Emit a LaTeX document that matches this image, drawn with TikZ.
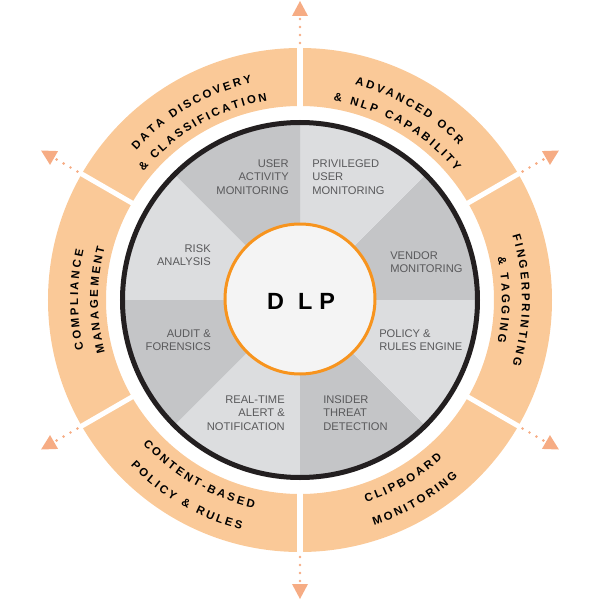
\documentclass[tikz,border=0pt]{standalone}
\usepackage{fontspec}
\setmainfont{Liberation Sans}
\usepackage{xcolor}
\usetikzlibrary{arrows.meta,decorations.text}
\definecolor{ringpeach}{RGB}{250, 201, 152}
\definecolor{arrowsalmon}{RGB}{246, 172, 132}
\definecolor{sectordark}{RGB}{196, 197, 199}
\definecolor{sectorlight}{RGB}{220, 221, 223}
\definecolor{rimblack}{RGB}{35, 31, 32}
\definecolor{hubfill}{RGB}{244, 244, 244}
\definecolor{huborange}{RGB}{247, 148, 30}
\definecolor{labelgray}{RGB}{89, 89, 91}

\begin{document}
\begin{tikzpicture}[x=0.7pt, y=0.7pt,
    sectorlabel/.style={text=labelgray, font=\fontsize{7.8}{9.4}\selectfont, inner sep=0pt},
    gapline/.style={white, line width=3.5pt},
    arrowline/.style={arrowsalmon, line width=2pt, line cap=round, dash pattern=on 0pt off 5.6pt,
      -{Triangle[length=10.5pt, width=11.2pt, line width=0pt]}},
    ringlabel/.style={decorate, decoration={text effects along path, text={#1}, text align=center,
      text effects/.cd, text along path,
      characters={font=\bfseries\fontsize{8}{9.6}\selectfont, text=black},
      character widths={font=\bfseries\fontsize{8}{9.6}\selectfont, inner xsep=0.9pt}}}]
        \useasboundingbox (-300,-300) rectangle (300,300);
        % orange ring
        \fill[ringpeach, even odd rule] (0,0) circle[radius=252] (0,0) circle[radius=194];
        \draw[gapline] (90:190) -- (90:256);
        \draw[gapline] (30:190) -- (30:256);
        \draw[gapline] (-30:190) -- (-30:256);
        \draw[gapline] (-90:190) -- (-90:256);
        \draw[gapline] (-150:190) -- (-150:256);
        \draw[gapline] (150:190) -- (150:256);
        % arrows
        \coordinate (outN) at (90:257);   \coordinate (tipN) at (90:299);
        \coordinate (outNE) at (30:257);  \coordinate (tipNE) at (30:299);
        \coordinate (outSE) at (-30:257); \coordinate (tipSE) at (-30:299);
        \coordinate (outS) at (-90:257);  \coordinate (tipS) at (-90:299);
        \coordinate (outSW) at (-150:257); \coordinate (tipSW) at (-150:299);
        \coordinate (outNW) at (150:257); \coordinate (tipNW) at (150:299);
        \draw[arrowline] (outN) -- (tipN);
        \draw[arrowline] (outNE) -- (tipNE);
        \draw[arrowline] (outSE) -- (tipSE);
        \draw[arrowline] (outS) -- (tipS);
        \draw[arrowline] (outSW) -- (tipSW);
        \draw[arrowline] (outNW) -- (tipNW);
        % ring labels
        \path[ringlabel={DATA DISCOVERY}] (148:222) arc[start angle=148, end angle=92, radius=222];
        \path[ringlabel={\& CLASSIFICATION}] (148:202) arc[start angle=148, end angle=92, radius=202];
        \path[ringlabel={ADVANCED OCR}] (88:222) arc[start angle=88, end angle=32, radius=222];
        \path[ringlabel={\& NLP CAPABILITY}] (88:202) arc[start angle=88, end angle=32, radius=202];
        \path[ringlabel={FINGERPRINTING}] (28:222) arc[start angle=28, end angle=-28, radius=222];
        \path[ringlabel={\& TAGGING}] (28:202) arc[start angle=28, end angle=-28, radius=202];
        \path[ringlabel={CLIPBOARD}] (-88:213) arc[start angle=-88, end angle=-32, radius=213];
        \path[ringlabel={MONITORING}] (-88:237) arc[start angle=-88, end angle=-32, radius=237];
        \path[ringlabel={CONTENT-BASED}] (-148:213) arc[start angle=-148, end angle=-92, radius=213];
        \path[ringlabel={POLICY \& RULES}] (-148:237) arc[start angle=-148, end angle=-92, radius=237];
        \path[ringlabel={COMPLIANCE}] (208:222) arc[start angle=208, end angle=152, radius=222];
        \path[ringlabel={MANAGEMENT}] (208:202) arc[start angle=208, end angle=152, radius=202];
        % gray sectors
        \fill[sectordark] (0,0) -- (0:177) arc[start angle=0, end angle=45, radius=177] -- cycle;
        \fill[sectorlight] (0,0) -- (45:177) arc[start angle=45, end angle=90, radius=177] -- cycle;
        \fill[sectordark] (0,0) -- (90:177) arc[start angle=90, end angle=135, radius=177] -- cycle;
        \fill[sectorlight] (0,0) -- (135:177) arc[start angle=135, end angle=180, radius=177] -- cycle;
        \fill[sectordark] (0,0) -- (180:177) arc[start angle=180, end angle=225, radius=177] -- cycle;
        \fill[sectorlight] (0,0) -- (225:177) arc[start angle=225, end angle=270, radius=177] -- cycle;
        \fill[sectordark] (0,0) -- (270:177) arc[start angle=270, end angle=315, radius=177] -- cycle;
        \fill[sectorlight] (0,0) -- (315:177) arc[start angle=315, end angle=360, radius=177] -- cycle;
        \draw[rimblack, line width=3.5pt] (0,0) circle[radius=177.5];
        % sector labels
        \node[sectorlabel, anchor=east, align=right] (useract) at (-11,123) {USER\\ACTIVITY\\MONITORING};
        \node[sectorlabel, anchor=west, align=left] (privuser) at (12,123) {PRIVILEGED\\USER\\MONITORING};
        \node[sectorlabel, anchor=west, align=left] (vendor) at (90,38) {VENDOR\\MONITORING};
        \node[sectorlabel, anchor=west, align=left] (policy) at (79,-40) {POLICY \&\\RULES ENGINE};
        \node[sectorlabel, anchor=west, align=left] (insider) at (23,-113) {INSIDER\\THREAT\\DETECTION};
        \node[sectorlabel, anchor=east, align=right] (alert) at (-15,-113) {REAL-TIME\\ALERT \&\\NOTIFICATION};
        \node[sectorlabel, anchor=east, align=right] (audit) at (-89,-40) {AUDIT \&\\FORENSICS};
        \node[sectorlabel, anchor=east, align=right] (risk) at (-89,45) {RISK\\ANALYSIS};
        % DLP hub
        \draw[huborange, fill=hubfill, line width=2.1pt] (0,1) circle[radius=75];
        \node[font=\bfseries\fontsize{16.4}{18}\selectfont, text=black] (dlp) at (1,-1.5) {D\hspace{9.9pt}L\hspace{4.8pt}P};
      \end{tikzpicture}
\end{document}
